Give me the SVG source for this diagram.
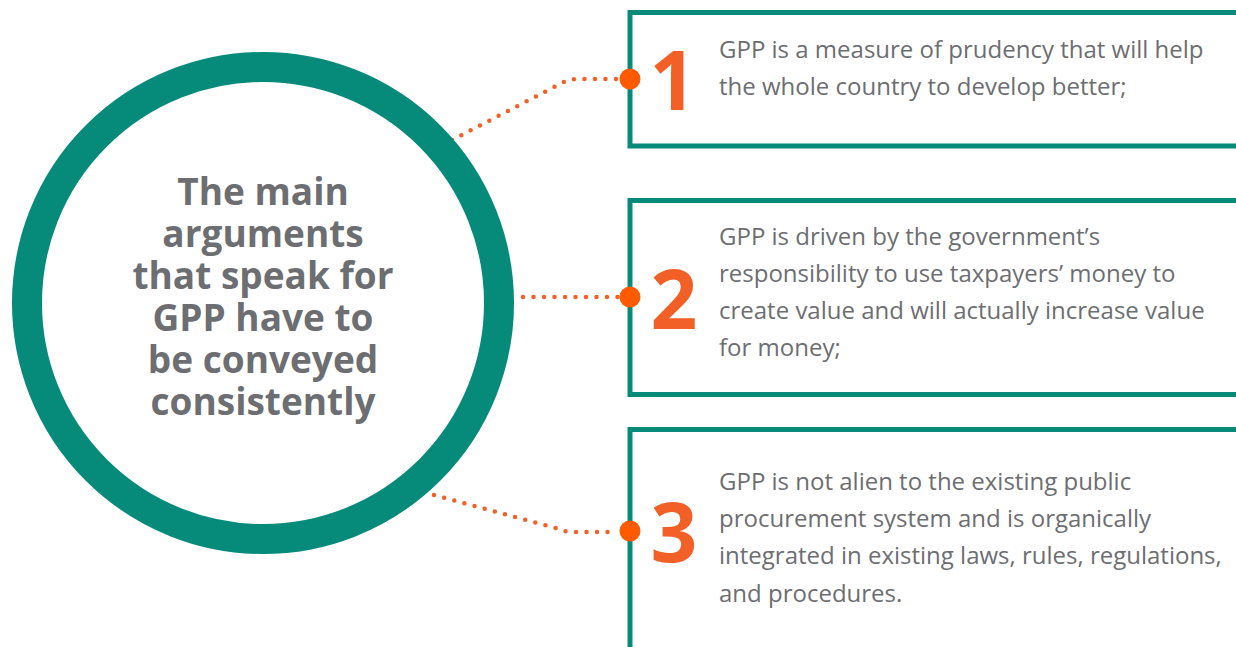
<svg xmlns="http://www.w3.org/2000/svg" width="1236" height="647" viewBox="0 0 1236 647">
<style>
.ring{fill:#fff;stroke:#068b7a;stroke-width:30}
.box{fill:#fff;stroke:#068b7a;stroke-width:5}
.main{font-family:"Open Sans","Liberation Sans",sans-serif;font-weight:700;font-size:37px;fill:#6d6e71;text-anchor:middle}
.body{font-family:"Open Sans","Liberation Sans",sans-serif;font-size:24px;fill:#6d6e71}
.num{font-family:"Open Sans","Liberation Sans",sans-serif;font-weight:700;font-size:82px;fill:#f26027;text-anchor:middle}
.dotline{fill:none;stroke:#f26027;stroke-width:4.5;stroke-linecap:round;stroke-dasharray:0 10.5}
.end{fill:#ff5a00}
</style>
<g id="connectors">
<path class="dotline" d="M452,140 L560,84 Q568,79 578,79 L618,79"/>
<path class="dotline" d="M523,297 L618,297"/>
<path class="dotline" d="M434,495 L559,529 Q565,532 572,532 L618,532"/>
</g>
<g id="center">
<circle class="ring" cx="263" cy="303" r="236"/>
<text class="main" x="263" y="205">The main</text>
<text class="main" x="263" y="247">arguments</text>
<text class="main" x="263" y="289">that speak for</text>
<text class="main" x="263" y="331">GPP have to</text>
<text class="main" x="263" y="373">be conveyed</text>
<text class="main" x="263" y="415">consistently</text>
</g>
<g id="item1">
<rect class="box" x="630" y="12.5" width="620" height="133.5"/>
<circle class="end" cx="630" cy="79" r="10.5"/>
<text class="num" x="673" y="110">1</text>
<text class="body" x="719" y="58">GPP is a measure of prudency that will help</text>
<text class="body" x="719" y="95">the whole country to develop better;</text>
</g>
<g id="item2">
<rect class="box" x="630" y="200.5" width="620" height="194"/>
<circle class="end" cx="630" cy="297" r="10.5"/>
<text class="num" x="674" y="329">2</text>
<text class="body" x="719" y="245">GPP is driven by the government’s</text>
<text class="body" x="719" y="282">responsibility to use taxpayers’ money to</text>
<text class="body" x="719" y="319">create value and will actually increase value</text>
<text class="body" x="719" y="356">for money;</text>
</g>
<g id="item3">
<rect class="box" x="630" y="429.5" width="620" height="240"/>
<circle class="end" cx="630" cy="531" r="10.5"/>
<text class="num" x="674" y="562">3</text>
<text class="body" x="719" y="490">GPP is not alien to the existing public</text>
<text class="body" x="719" y="527">procurement system and is organically</text>
<text class="body" x="719" y="564">integrated in existing laws, rules, regulations,</text>
<text class="body" x="719" y="602">and procedures.</text>
</g>
</svg>
